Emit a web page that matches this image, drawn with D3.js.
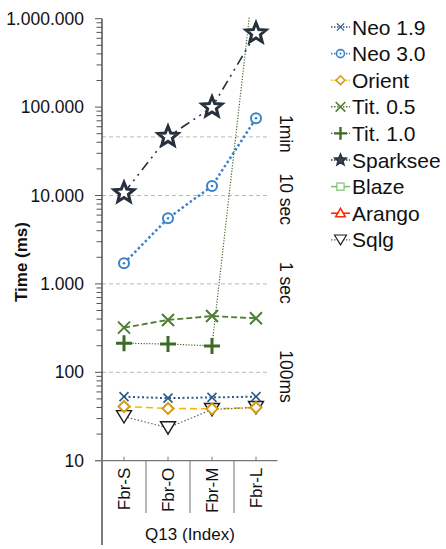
<!DOCTYPE html>
<html>
<head>
<meta charset="utf-8">
<script src="https://cdn.jsdelivr.net/npm/d3@7"></script>
<style>
  html, body { margin: 0; padding: 0; background: #fff; }
  text { font-family: "Liberation Sans", Arial, sans-serif; fill: #111; }
</style>
</head>
<body>
<svg id="chart" width="446" height="549"></svg>
<script>
// ---------------- data ----------------
const categories = ["Fbr-S", "Fbr-O", "Fbr-M", "Fbr-L"];
const seriesNames = ["Neo 1.9", "Neo 3.0", "Orient", "Tit. 0.5", "Tit. 1.0", "Sparksee", "Blaze", "Arango", "Sqlg"];
const neo19    = [53, 51, 52, 53];
const neo30    = [1710, 5520, 12800, 74700];
const orient   = [41, 39, 38.6, 40];
const tit05    = [320, 391, 433, 408];
const tit10    = [213, 209, 199, 4900000];
const sparksee = [10700, 46200, 99500, 684000];
const blaze    = [null, null, null, null];
const arango   = [null, null, null, null];
const sqlg     = [31.5, 23.6, 38.0, 40.0];
const seriesValues = [neo19, neo30, orient, tit05, tit10, sparksee, blaze, arango, sqlg];

const yTickValues = [10, 100, 1000, 10000, 100000, 1000000];
const refLineValues = [46000, 10000, 1000, 100];
const refLineLabels = ["1min", "10 sec", "1 sec", "100ms"];
const yTitle = "Time (ms)";
const xTitle = "Q13 (Index)";

// ---------------- styles ----------------
const styles = {
  "Neo 1.9":  {color: "#2d5c8c", line: "#2d5c8c", dash: "2,2.5", lw: 2,   sym: "x",      size: 4.5, sw: 1.6},
  "Neo 3.0":  {color: "#3b82c9", line: "#3b82c9", dash: "2.5,2.5", lw: 2.5, sym: "circle", size: 5,   sw: 2},
  "Orient":   {color: "#d29d12", line: "#f2b705", dash: "7,4",   lw: 1.6, sym: "diamond",size: 5.5, sw: 2},
  "Tit. 0.5": {color: "#4b7d32", line: "#4b7d32", dash: "6,3",   lw: 1.8, sym: "x",      size: 6,   sw: 2},
  "Tit. 1.0": {color: "#3b6b26", line: "#3b6b26", dash: "1.2,1.6", lw: 1.2, sym: "plus", size: 8,   sw: 3},
  "Sparksee": {color: "#27313d", line: "#27313d", dash: "10,5,2,5,2,5", lw: 1.6, sym: "star", size: 10.5, sw: 3},
  "Blaze":    {color: "#7cc46c", line: "#7cc46c", dash: null,    lw: 1.6, sym: "square", size: 4.5, sw: 1.5},
  "Arango":   {color: "#ff2a0a", line: "#ff2a0a", dash: null,    lw: 1.6, sym: "triangle", size: 6, sw: 2},
  "Sqlg":     {color: "#1a1a1a", line: "#666666", dash: "1.5,2", lw: 1.2, sym: "triDown", size: 7.5, sw: 1.4}
};

// ---------------- layout ----------------
const svg = d3.select("#chart");
svg.append("rect").attr("width", 446).attr("height", 549).attr("fill", "#fff");

const x = d3.scaleBand().domain(categories).range([102, 278]);
const y = d3.scaleLog().domain([10, 1e6]).range([460.7, 18.7]);
const fmt = d3.formatLocale({decimal: ",", thousands: ".", grouping: [3], currency: ["", ""]}).format(",d");

// gridlines
const grid = svg.append("g");
refLineValues.forEach((v, i) => {
  grid.append("line")
    .attr("x1", 102).attr("x2", 270)
    .attr("y1", y(v)).attr("y2", y(v))
    .attr("stroke", "#b8b8b8").attr("stroke-width", 1).attr("stroke-dasharray", "4,3");
  grid.append("text")
    .attr("transform", `translate(286,${y(v) - 22}) rotate(90)`)
    .attr("text-anchor", "start")
    .attr("dominant-baseline", "central")
    .attr("font-size", 17.5)
    .text(refLineLabels[i]);
});

// y axis
const yAxisG = svg.append("g");
yAxisG.append("line").attr("x1", 102).attr("x2", 102).attr("y1", y(1e6)).attr("y2", 545)
  .attr("stroke", "#333").attr("stroke-width", 1.3);
y.ticks().forEach(t => {
  const major = Math.abs(Math.log10(t) - Math.round(Math.log10(t))) < 1e-9;
  yAxisG.append("line")
    .attr("x1", major ? 95 : 96.5).attr("x2", 102)
    .attr("y1", y(t)).attr("y2", y(t))
    .attr("stroke", "#555").attr("stroke-width", 1);
});
yTickValues.forEach(t => {
  yAxisG.append("text")
    .attr("x", 84).attr("y", y(t))
    .attr("text-anchor", "end").attr("dominant-baseline", "central")
    .attr("font-size", 17.5)
    .text(fmt(t));
});
svg.append("text")
  .attr("transform", "translate(21,262) rotate(-90)")
  .attr("text-anchor", "middle").attr("dominant-baseline", "central")
  .attr("font-size", 17).attr("font-weight", "bold")
  .text(yTitle);

// x axis
const xAxisG = svg.append("g");
const yBase = y(10);
xAxisG.append("line").attr("x1", 95).attr("x2", 277.5).attr("y1", yBase).attr("y2", yBase)
  .attr("stroke", "#777").attr("stroke-width", 1.3);
categories.forEach((c, i) => {
  const cx = x(c) + x.bandwidth() / 2;
  xAxisG.append("line").attr("x1", cx).attr("x2", cx).attr("y1", yBase - 4).attr("y2", yBase)
    .attr("stroke", "#777").attr("stroke-width", 1);
  if (i > 0) {
    xAxisG.append("line").attr("x1", x(c)).attr("x2", x(c)).attr("y1", yBase).attr("y2", 513)
      .attr("stroke", "#888").attr("stroke-width", 1.2);
  }
  xAxisG.append("text")
    .attr("transform", `translate(${cx},${yBase + 7}) rotate(-90)`)
    .attr("text-anchor", "end").attr("dominant-baseline", "central")
    .attr("font-size", 17)
    .text(c);
});
svg.append("text")
  .attr("x", 190).attr("y", 540)
  .attr("text-anchor", "middle")
  .attr("font-size", 17)
  .text(xTitle);

// ---------------- symbols ----------------
function starPath(R) {
  const r = R * 0.44;
  let p = [];
  for (let k = 0; k < 10; k++) {
    const a = -Math.PI / 2 + k * Math.PI / 5;
    const rr = k % 2 === 0 ? R : r;
    p.push([rr * Math.cos(a), rr * Math.sin(a)]);
  }
  return "M" + p.map(d => d.join(",")).join("L") + "Z";
}
function drawSymbol(g, st, cx, cy, scale) {
  const s = st.size * scale;
  const sw = st.sw * Math.max(scale, 0.75);
  const grp = g.append("g").attr("transform", `translate(${cx},${cy})`);
  switch (st.sym) {
    case "x":
      grp.append("path").attr("d", `M${-s},${-s}L${s},${s}M${-s},${s}L${s},${-s}`)
        .attr("stroke", st.color).attr("stroke-width", sw).attr("fill", "none");
      break;
    case "plus":
      grp.append("path").attr("d", `M${-s},0L${s},0M0,${-s}L0,${s}`)
        .attr("stroke", st.color).attr("stroke-width", sw).attr("fill", "none");
      break;
    case "circle":
      grp.append("circle").attr("r", s).attr("fill", "#fff").attr("stroke", st.color).attr("stroke-width", sw);
      grp.append("circle").attr("r", 1.3 * scale).attr("fill", st.color);
      break;
    case "diamond":
      grp.append("path").attr("d", `M0,${-s}L${s},0L0,${s}L${-s},0Z`)
        .attr("fill", "#fff").attr("stroke", st.color).attr("stroke-width", sw);
      break;
    case "square":
      grp.append("rect").attr("x", -s).attr("y", -s).attr("width", 2 * s).attr("height", 2 * s)
        .attr("fill", "#fff").attr("stroke", st.color).attr("stroke-width", sw);
      break;
    case "triangle":
      grp.append("path").attr("d", `M0,${-s}L${s},${s * 0.75}L${-s},${s * 0.75}Z`)
        .attr("fill", "#fff").attr("stroke", st.color).attr("stroke-width", sw);
      break;
    case "triDown":
      grp.append("path").attr("d", `M${-s},${-s * 0.8}L${s},${-s * 0.8}L0,${s * 0.85}Z`)
        .attr("fill", "#fff").attr("stroke", st.color).attr("stroke-width", sw);
      break;
    case "star":
      grp.append("path").attr("d", starPath(s))
        .attr("fill", "#fff").attr("stroke", st.color).attr("stroke-width", sw).attr("stroke-linejoin", "miter");
      break;
  }
}

// ---------------- series ----------------
svg.append("clipPath").attr("id", "plotClip")
  .append("rect").attr("x", 95).attr("y", 17).attr("width", 200).attr("height", 460);
const plot = svg.append("g").attr("clip-path", "url(#plotClip)");

const lineGen = d3.line()
  .defined(d => d.v != null)
  .x(d => x(d.c) + x.bandwidth() / 2)
  .y(d => y(d.v));

const order = d3.range(seriesNames.length);
order.forEach(i => {
  const st = styles[seriesNames[i]];
  const pts = categories.map((c, j) => ({c, v: seriesValues[i][j]}));
  plot.append("path").datum(pts)
    .attr("d", lineGen)
    .attr("fill", "none")
    .attr("stroke", st.line)
    .attr("stroke-width", st.lw)
    .attr("stroke-dasharray", st.dash);
});
order.slice().reverse().forEach(i => {
  const st = styles[seriesNames[i]];
  categories.forEach((c, j) => {
    const v = seriesValues[i][j];
    if (v == null) return;
    const cy = y(v);
    if (cy < 0) return;
    drawSymbol(plot, st, x(c) + x.bandwidth() / 2, cy, 1);
  });
});

// ---------------- legend ----------------
const legend = svg.append("g");
seriesNames.forEach((name, i) => {
  const st = styles[name];
  const ly = 27 + i * 26.6;
  legend.append("line").attr("x1", 331).attr("x2", 350).attr("y1", ly).attr("y2", ly)
    .attr("stroke", st.line).attr("stroke-width", Math.min(st.lw, 1.6))
    .attr("stroke-dasharray", st.dash ? "1.5,1.5" : null);
  if (name === "Sparksee") {
    legend.append("path").attr("transform", `translate(340.5,${ly})`)
      .attr("d", starPath(6)).attr("fill", "#3a4656").attr("stroke", st.color).attr("stroke-width", 1.5);
  } else {
    drawSymbol(legend, st, 340.5, ly, 0.8);
  }
  legend.append("text")
    .attr("x", 352).attr("y", ly)
    .attr("dominant-baseline", "central")
    .attr("font-size", 21)
    .text(name);
});
</script>
</body>
</html>
